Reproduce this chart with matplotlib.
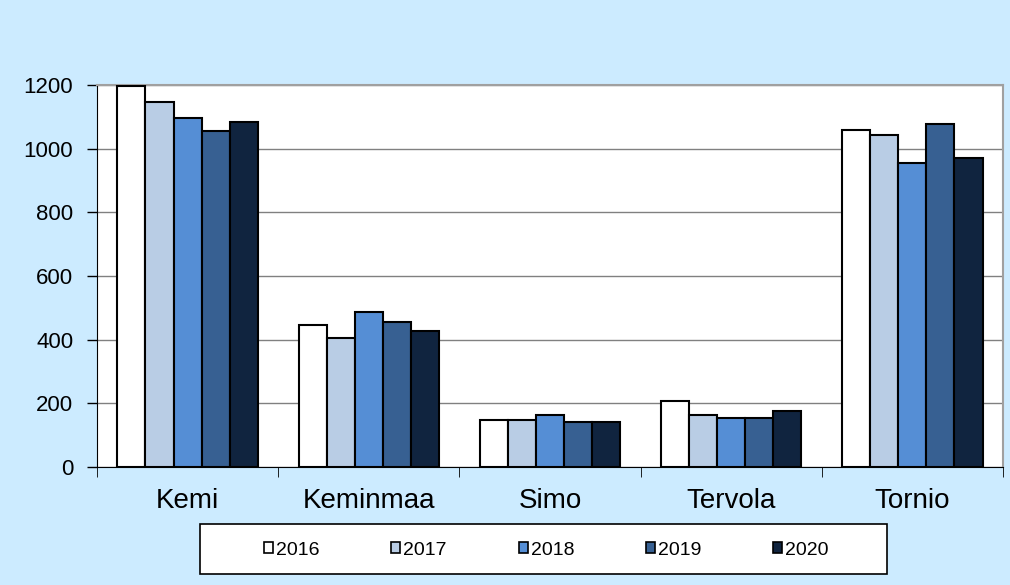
import numpy as np
import matplotlib.pyplot as plt
from matplotlib.patches import Rectangle

plt.rcParams['font.family'] = ['Liberation Sans', 'DejaVu Sans']

# Data
municipalities = ['Kemi', 'Keminmaa', 'Simo', 'Tervola', 'Tornio']
years = ['2016', '2017', '2018', '2019', '2020']
v2016 = [1197, 447, 148, 208, 1058]
v2017 = [1147, 406, 148, 164, 1043]
v2018 = [1096, 488, 164, 154, 954]
v2019 = [1055, 457, 142, 154, 1077]
v2020 = [1084, 428, 142, 176, 970]
series = [v2016, v2017, v2018, v2019, v2020]
colors = ['#FFFFFF', '#B9CDE5', '#558ED5', '#376092', '#10243F']

fig = plt.figure(figsize=(10.1, 5.85), dpi=100)
fig.patch.set_facecolor('#CCEBFF')
ax = fig.add_axes([0.096, 0.2017, 0.897, 0.653])
ax.set_facecolor('white')

x = np.arange(len(municipalities))
w = 0.155
for i, (vals, c) in enumerate(zip(series, colors)):
    ax.bar(x + (i - 2) * w, vals, width=w, color=c, edgecolor='black',
           linewidth=1.5, label=years[i], zorder=3)

ax.set_xlim(-0.5, len(municipalities) - 0.5)
ax.set_ylim(0, 1200)
ax.set_yticks(range(0, 1201, 200))
ax.yaxis.grid(True, color='#808080', linewidth=1, zorder=0)
ax.tick_params(axis='y', labelsize=16, length=7, color='black', width=1, pad=10)

# category labels centered, ticks at category boundaries
ax.set_xticks(x)
ax.set_xticklabels(municipalities, fontsize=20)
ax.tick_params(axis='x', length=0, pad=15)
ax.set_xticks(np.arange(-0.5, len(municipalities)), minor=True)
ax.tick_params(axis='x', which='minor', length=7, color='black')

for side in ['top', 'right']:
    ax.spines[side].set_color('#A0A0A0')
    ax.spines[side].set_linewidth(1.5)
ax.spines['left'].set_color('black')
ax.spines['bottom'].set_color('black')

# legend box drawn separately, legend entries on top
fig.patches.append(Rectangle((0.198, 0.0188), 0.680, 0.0855,
                             transform=fig.transFigure, facecolor='white',
                             edgecolor='black', linewidth=1.2, zorder=1))
leg = fig.legend(loc='center', bbox_to_anchor=(0.541, 0.0598), ncol=5,
                 fontsize=14, frameon=False, handlelength=0.46,
                 handleheight=0.46, handletextpad=0.15, columnspacing=3.7,
                 borderpad=0, borderaxespad=0)
for h in leg.legend_handles:
    h.set_linewidth(1.2)

fig.savefig('out.png', dpi=100, facecolor=fig.get_facecolor())
